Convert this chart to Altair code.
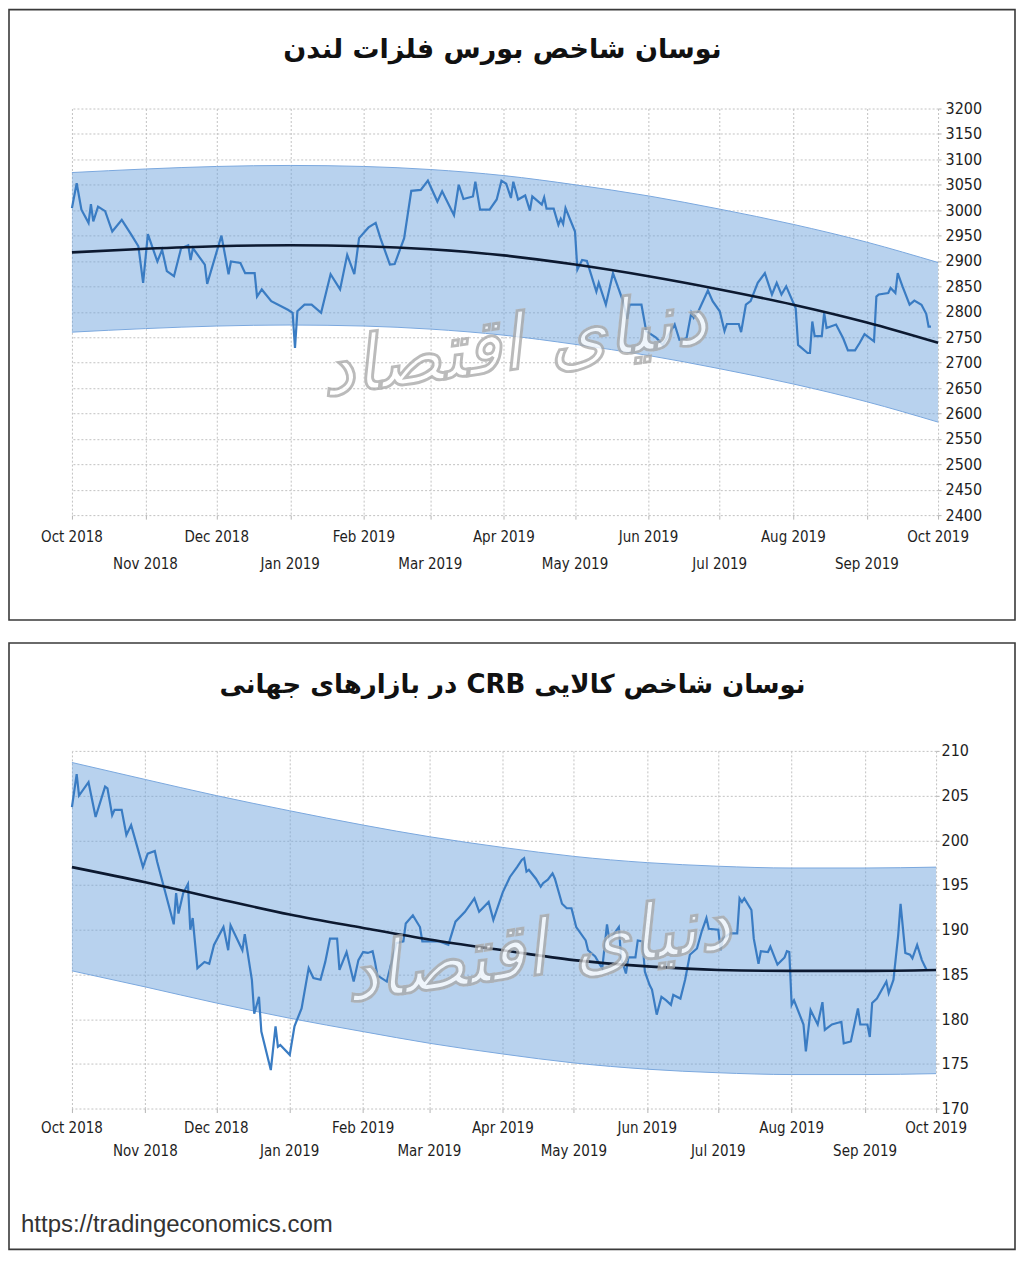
import altair as alt
import pandas as pd

# ---------------- data ----------------
month_starts = ["2018-10-01", "2018-11-01", "2018-12-01", "2019-01-01", "2019-02-01", "2019-03-01",
                "2019-04-01", "2019-05-01", "2019-06-01", "2019-07-01", "2019-08-01", "2019-09-01",
                "2019-10-01"]
month_labels = ["Oct 2018", "Nov 2018", "Dec 2018", "Jan 2019", "Feb 2019", "Mar 2019", "Apr 2019",
                "May 2019", "Jun 2019", "Jul 2019", "Aug 2019", "Sep 2019", "Oct 2019"]

lme_title = "نوسان شاخص بورس فلزات لندن"
lme_dates = [
    "2018-10-01", "2018-10-03", "2018-10-05", "2018-10-08", "2018-10-09", "2018-10-10", "2018-10-12", "2018-10-15", "2018-10-18", "2018-10-22", "2018-10-26", "2018-10-29", "2018-10-31",
    "2018-11-02", "2018-11-06", "2018-11-08", "2018-11-10", "2018-11-13", "2018-11-16", "2018-11-19", "2018-11-20", "2018-11-21", "2018-11-26", "2018-11-27",
    "2018-12-03", "2018-12-06", "2018-12-07", "2018-12-11", "2018-12-13", "2018-12-17", "2018-12-18", "2018-12-20", "2018-12-24", "2018-12-31",
    "2019-01-02", "2019-01-03", "2019-01-04", "2019-01-07", "2019-01-10", "2019-01-14", "2019-01-18", "2019-01-22", "2019-01-25", "2019-01-28", "2019-01-30",
    "2019-02-03", "2019-02-06", "2019-02-08", "2019-02-12", "2019-02-14", "2019-02-18", "2019-02-21", "2019-02-25", "2019-02-28",
    "2019-03-04", "2019-03-06", "2019-03-11", "2019-03-13", "2019-03-15", "2019-03-19", "2019-03-20", "2019-03-22", "2019-03-26", "2019-03-29", "2019-03-31",
    "2019-04-02", "2019-04-04", "2019-04-05", "2019-04-07", "2019-04-10", "2019-04-12", "2019-04-13", "2019-04-17", "2019-04-18", "2019-04-19", "2019-04-22", "2019-04-24", "2019-04-25", "2019-04-26", "2019-04-27",
    "2019-05-01", "2019-05-02", "2019-05-04", "2019-05-06", "2019-05-10", "2019-05-11", "2019-05-14", "2019-05-17", "2019-05-21", "2019-05-23", "2019-05-24", "2019-05-29", "2019-05-31",
    "2019-06-04", "2019-06-05", "2019-06-07", "2019-06-12", "2019-06-14", "2019-06-17", "2019-06-19", "2019-06-20", "2019-06-22", "2019-06-26", "2019-06-28",
    "2019-07-01", "2019-07-03", "2019-07-04", "2019-07-09", "2019-07-10", "2019-07-12", "2019-07-14", "2019-07-17", "2019-07-20", "2019-07-23", "2019-07-25", "2019-07-27", "2019-07-29",
    "2019-08-02", "2019-08-03", "2019-08-07", "2019-08-08", "2019-08-09", "2019-08-10", "2019-08-13", "2019-08-14", "2019-08-15", "2019-08-19", "2019-08-22", "2019-08-24", "2019-08-27", "2019-08-29", "2019-08-31",
    "2019-09-04", "2019-09-05", "2019-09-06", "2019-09-10", "2019-09-11", "2019-09-13", "2019-09-14", "2019-09-16", "2019-09-19", "2019-09-21", "2019-09-24", "2019-09-26", "2019-09-27", "2019-09-28",
]
lme_values = [
    3004, 3053, 3001, 2975, 3012, 2978, 3007, 2998, 2958, 2981, 2952, 2929, 2857,
    2953, 2899, 2922, 2880, 2870, 2925, 2931, 2902, 2925, 2893, 2855,
    2950, 2874, 2899, 2896, 2876, 2876, 2830, 2844, 2821, 2804,
    2798, 2729, 2801, 2814, 2814, 2798, 2874, 2844, 2912, 2874, 2945,
    2966, 2975, 2945, 2893, 2894, 2945, 3038, 3040, 3058,
    3017, 3037, 2990, 3050, 3022, 3027, 3056, 3001, 3001, 3021, 3058,
    3052, 3024, 3056, 3021, 3029, 2999, 3027, 3011, 3025, 3003, 3003, 2971, 2983, 2973, 3004,
    2958, 2883, 2902, 2900, 2840, 2857, 2814, 2876, 2824, 2786, 2814, 2814, 2762,
    2750, 2745, 2735, 2775, 2745, 2748, 2798, 2788, 2801, 2842, 2821,
    2801, 2762, 2776, 2776, 2760, 2814, 2821, 2857, 2876, 2834, 2857, 2834, 2850,
    2807, 2735, 2719, 2719, 2781, 2752, 2752, 2798, 2768, 2775, 2748, 2724, 2724, 2739, 2756,
    2742, 2830, 2834, 2837, 2847, 2837, 2876, 2850, 2814, 2822, 2814, 2796, 2771, 2771,
]
lme_trend = [2917, 2924, 2929, 2931, 2929, 2923, 2911, 2893, 2870, 2844, 2814, 2779, 2739]
lme_upper = [3074, 3081, 3086, 3088, 3086, 3080, 3068, 3050, 3028, 3002, 2972, 2937, 2897]
lme_lower = [2760, 2767, 2772, 2774, 2772, 2766, 2754, 2736, 2714, 2688, 2658, 2623, 2583]
lme_ticks = [2400, 2450, 2500, 2550, 2600, 2650, 2700, 2750, 2800, 2850, 2900, 2950, 3000, 3050, 3100, 3150, 3200]

crb_title = "نوسان شاخص کالایی CRB در بازارهای جهانی"
crb_dates = [
    "2018-10-01", "2018-10-03", "2018-10-04", "2018-10-08", "2018-10-11", "2018-10-15", "2018-10-16", "2018-10-18", "2018-10-19", "2018-10-22", "2018-10-24", "2018-10-26", "2018-10-31",
    "2018-11-02", "2018-11-05", "2018-11-06", "2018-11-09", "2018-11-13", "2018-11-14", "2018-11-15", "2018-11-17", "2018-11-19", "2018-11-20", "2018-11-21", "2018-11-23", "2018-11-26", "2018-11-28", "2018-11-30",
    "2018-12-04", "2018-12-06", "2018-12-07", "2018-12-12", "2018-12-13", "2018-12-16", "2018-12-17", "2018-12-19", "2018-12-20", "2018-12-24", "2018-12-26", "2018-12-27", "2018-12-28",
    "2019-01-01", "2019-01-03", "2019-01-06", "2019-01-09", "2019-01-11", "2019-01-14", "2019-01-16", "2019-01-18", "2019-01-21", "2019-01-22", "2019-01-25", "2019-01-28", "2019-01-30",
    "2019-02-01", "2019-02-03", "2019-02-05", "2019-02-06", "2019-02-07", "2019-02-11", "2019-02-13", "2019-02-15", "2019-02-18", "2019-02-19", "2019-02-22", "2019-02-25", "2019-02-26",
    "2019-03-02", "2019-03-05", "2019-03-09", "2019-03-12", "2019-03-16", "2019-03-20", "2019-03-22", "2019-03-26", "2019-03-28",
    "2019-04-01", "2019-04-04", "2019-04-07", "2019-04-09", "2019-04-10", "2019-04-11", "2019-04-12", "2019-04-15", "2019-04-17", "2019-04-18", "2019-04-20", "2019-04-22", "2019-04-23", "2019-04-26", "2019-04-28", "2019-04-30",
    "2019-05-02", "2019-05-06", "2019-05-07", "2019-05-10", "2019-05-12", "2019-05-13", "2019-05-15", "2019-05-16", "2019-05-20", "2019-05-21", "2019-05-23", "2019-05-24", "2019-05-27", "2019-05-28", "2019-05-30", "2019-05-31",
    "2019-06-02", "2019-06-03", "2019-06-05", "2019-06-07", "2019-06-09", "2019-06-11", "2019-06-12", "2019-06-15", "2019-06-17", "2019-06-19", "2019-06-22", "2019-06-24", "2019-06-26", "2019-06-27",
    "2019-07-01", "2019-07-02", "2019-07-03", "2019-07-06", "2019-07-09", "2019-07-10", "2019-07-11", "2019-07-12", "2019-07-15", "2019-07-16", "2019-07-18", "2019-07-19", "2019-07-22", "2019-07-23", "2019-07-26", "2019-07-29", "2019-07-30", "2019-07-31",
    "2019-08-01", "2019-08-02", "2019-08-06", "2019-08-07", "2019-08-09", "2019-08-12", "2019-08-14", "2019-08-15", "2019-08-18", "2019-08-22", "2019-08-23", "2019-08-26", "2019-08-29", "2019-08-30",
    "2019-09-02", "2019-09-03", "2019-09-04", "2019-09-06", "2019-09-10", "2019-09-11", "2019-09-13", "2019-09-15", "2019-09-16", "2019-09-18", "2019-09-20", "2019-09-21", "2019-09-23", "2019-09-25", "2019-09-27",
]
crb_values = [
    203.7, 207.4, 205.0, 206.5, 202.6, 206.0, 205.8, 202.8, 203.4, 203.4, 200.6, 201.7, 197.0,
    198.5, 198.8, 197.6, 194.6, 190.6, 194.1, 191.8, 194.1, 195.1, 190.0, 191.3, 185.7, 186.4, 186.2, 188.3,
    190.3, 187.7, 190.5, 187.7, 189.5, 184.4, 180.6, 182.5, 178.6, 174.3, 179.2, 176.9, 177.1,
    176.0, 179.2, 181.2, 185.7, 184.6, 184.4, 186.4, 189.0, 189.0, 185.5, 187.5, 184.2, 186.6,
    187.5, 187.4, 187.6, 186.4, 184.9, 184.2, 186.4, 188.5, 188.7, 190.7, 191.6, 190.3, 188.7,
    188.7, 188.7, 188.3, 190.9, 192.0, 193.5, 192.0, 193.1, 191.1,
    194.2, 195.9, 197.0, 197.8, 198.0, 196.5, 196.7, 195.7, 194.8, 195.2, 195.6, 196.3, 195.7, 192.9, 192.4, 192.4,
    190.3, 188.8, 187.7, 187.0, 186.1, 185.7, 190.6, 188.8, 190.3, 186.8, 185.1, 186.9, 186.9, 188.8, 188.7, 185.3,
    183.8, 183.3, 180.5, 182.5, 182.1, 181.6, 182.7, 182.3, 184.4, 187.2, 187.9, 189.8, 191.3, 190.1,
    190.0, 187.7, 189.0, 189.6, 189.6, 193.5, 193.1, 193.5, 192.2, 189.0, 186.2, 187.6, 187.5, 188.1, 186.1, 186.9, 187.6, 187.5,
    181.6, 182.1, 179.4, 176.4, 181.0, 179.4, 181.9, 178.8, 179.4, 179.7, 177.3, 177.5, 181.2, 179.4,
    179.4, 178.0, 181.8, 182.3, 184.2, 182.9, 184.4, 189.4, 192.9, 187.4, 187.2, 186.8, 188.3, 186.6, 185.5,
]
crb_trend = [197.0, 195.3, 193.5, 191.7, 190.2, 188.9, 187.7, 186.6, 185.9, 185.5, 185.4, 185.4, 185.5]
crb_upper = [208.7, 206.8, 205.0, 203.3, 201.7, 200.4, 199.2, 198.2, 197.5, 197.1, 196.9, 196.9, 197.0]
crb_lower = [185.4, 183.6, 181.8, 180.1, 178.6, 177.3, 176.1, 175.1, 174.4, 174.0, 173.8, 173.8, 173.9]
crb_ticks = [170, 175, 180, 185, 190, 195, 200, 205, 210]

source_note = "https://tradingeconomics.com"
watermark = "دنیای اقتصاد"

# ---------------- styling ----------------
FONT = "Liberation Sans Narrow, DejaVu Sans Condensed, Arial Narrow, sans-serif"
TITLE_FONT = "DejaVu Sans"
GRID = "#c2c2c2"
LABEL = "#1e1e1e"
RLE, PDF = "\u202B", "\u202C"   # right-to-left embedding for the Persian texts


def month_dt(s):
    y, m, d = (int(p) for p in s.split("-"))
    return alt.DateTime(year=y, month=m, date=d)


def panel(title, dates, values, trend, upper, lower, ticks, W, H, frame, title_xy, title_size,
          rows, label_pad, mark_xy, footer_xy=None):
    xscale = alt.Scale(domain=[month_dt(month_starts[0]), month_dt(month_starts[-1])])
    xaxis = alt.Axis(values=[month_dt(s) for s in month_starts], labels=False, title=None,
                     grid=True, gridColor=GRID, gridDash=[2, 2], gridWidth=1,
                     domain=False, ticks=True, tickSize=4, tickColor="#b5b5b5")
    yscale = alt.Scale(domain=[ticks[0], ticks[-1]], nice=False, zero=False)
    yaxis = alt.Axis(orient="right", values=ticks, title=None, grid=True, gridColor=GRID,
                     gridDash=[2, 2], gridWidth=1, domain=False, tickSize=3, tickColor="#b5b5b5",
                     labelFont=FONT, labelFontSize=16, labelColor=LABEL, labelPadding=label_pad,
                     format="d")

    series_df = pd.DataFrame({"date": pd.to_datetime(dates), "value": values})
    band_df = pd.DataFrame({"date": pd.to_datetime(month_starts), "trend": trend,
                            "upper": upper, "lower": lower})
    lab_df = pd.DataFrame({"date": pd.to_datetime(month_starts), "label": month_labels,
                           "row": [i % 2 for i in range(len(month_starts))]})

    X = alt.X("date:T", scale=xscale, axis=xaxis)

    box = alt.Chart(pd.DataFrame({"k": [0]})).mark_rect(
        fillOpacity=0, stroke="#3a3a3a", strokeWidth=1.6
    ).encode(x=alt.value(frame[0]), x2=alt.value(frame[1]), y=alt.value(frame[2]),
             y2=alt.value(frame[3]))

    band = alt.Chart(band_df).mark_area(interpolate="monotone", color="#6aa0db", opacity=0.48).encode(
        x=X, y=alt.Y("lower:Q", scale=yscale, axis=yaxis), y2="upper:Q")
    edge_hi = alt.Chart(band_df).mark_line(interpolate="monotone", color="#7aa8de", strokeWidth=1).encode(
        x=X, y=alt.Y("upper:Q", scale=yscale, axis=yaxis))
    edge_lo = alt.Chart(band_df).mark_line(interpolate="monotone", color="#7aa8de", strokeWidth=1).encode(
        x=X, y=alt.Y("lower:Q", scale=yscale, axis=yaxis))
    series = alt.Chart(series_df).mark_line(color="#3a7cc3", strokeWidth=2.2).encode(
        x=X, y=alt.Y("value:Q", scale=yscale, axis=yaxis))
    trend_line = alt.Chart(band_df).mark_line(interpolate="monotone", color="#0c1930", strokeWidth=2.6).encode(
        x=X, y=alt.Y("trend:Q", scale=yscale, axis=yaxis))

    wm = alt.Chart(pd.DataFrame({"t": [RLE + watermark + PDF]})).mark_text(
        font=TITLE_FONT, fontSize=76, fontStyle="italic", fontWeight="bold", color="white",
        opacity=0.78, stroke="#a8a8a8", strokeWidth=0.5, angle=352, align="center",
        baseline="middle"
    ).encode(x=alt.value(mark_xy[0]), y=alt.value(mark_xy[1]), text="t:N")

    lab1 = alt.Chart(lab_df).transform_filter(alt.datum.row == 0).mark_text(
        font=FONT, fontSize=15, color=LABEL, baseline="middle", align="center"
    ).encode(x=X, y=alt.value(H + rows[0]), text="label:N")
    lab2 = alt.Chart(lab_df).transform_filter(alt.datum.row == 1).mark_text(
        font=FONT, fontSize=15, color=LABEL, baseline="middle", align="center"
    ).encode(x=X, y=alt.value(H + rows[1]), text="label:N")

    ttl = alt.Chart(pd.DataFrame({"t": [RLE + title + PDF]})).mark_text(
        font=TITLE_FONT, fontSize=title_size, fontWeight="bold", color="#111111",
        align="center", baseline="middle"
    ).encode(x=alt.value(title_xy[0]), y=alt.value(title_xy[1]), text="t:N")

    layers = [box, band, edge_hi, edge_lo, series, trend_line, wm, lab1, lab2, ttl]
    if footer_xy is not None:
        foot = alt.Chart(pd.DataFrame({"t": [source_note]})).mark_text(
            font="Liberation Sans, Arial, sans-serif", fontSize=24, color="#333333",
            align="left", baseline="middle"
        ).encode(x=alt.value(footer_xy[0]), y=alt.value(footer_xy[1]), text="t:N")
        layers.append(foot)
    return alt.layer(*layers).properties(width=W, height=H)


top = panel(lme_title, lme_dates, lme_values, lme_trend, lme_upper, lme_lower, lme_ticks,
            867, 407, (-63, 944, -99, 512), (431, -59), 27, (22, 49), 4, (442, 238))
bottom = panel(crb_title, crb_dates, crb_values, crb_trend, crb_upper, crb_lower, crb_ticks,
               865, 358, (-63, 944, -108, 499), (441, -66), 26, (19, 43), 2, (466, 201),
               footer_xy=(-51, 475))

chart = alt.vconcat(top, bottom, spacing=21).properties(padding=0).configure_view(strokeWidth=0)

chart.save("out.html", embed_options={"renderer": "svg", "actions": False})
